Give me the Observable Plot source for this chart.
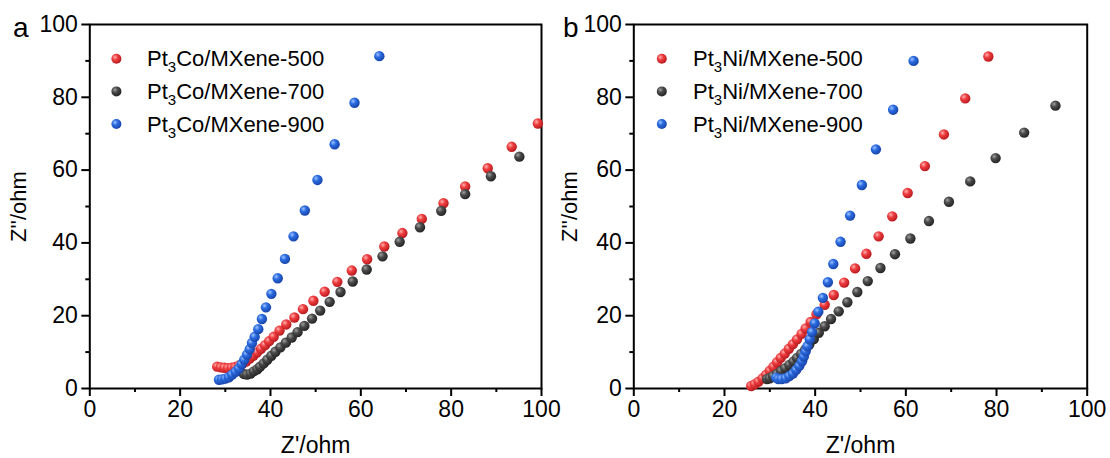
<!DOCTYPE html>
<html><head><meta charset="utf-8">
<script src="https://cdn.jsdelivr.net/npm/d3@7"></script>
<script src="https://cdn.jsdelivr.net/npm/@observablehq/plot@0.6"></script>
<style>
body{margin:0;background:#fff;}
#wrap{position:relative;width:1110px;height:458px;font-family:"Liberation Sans",Arial,sans-serif;}
#wrap svg{position:absolute;top:0;overflow:visible;background:transparent;}
</style></head><body>
<svg width="0" height="0" style="position:absolute">
<defs>
<radialGradient id="gRed" cx="0.36" cy="0.34" r="0.7">
 <stop offset="0" stop-color="#ffb0b0"/><stop offset="0.4" stop-color="#ee3d3f"/><stop offset="1" stop-color="#b5181d"/>
</radialGradient>
<radialGradient id="gGrey" cx="0.36" cy="0.34" r="0.7">
 <stop offset="0" stop-color="#a0a0a0"/><stop offset="0.4" stop-color="#4a4a4a"/><stop offset="1" stop-color="#222222"/>
</radialGradient>
<radialGradient id="gBlue" cx="0.36" cy="0.34" r="0.7">
 <stop offset="0" stop-color="#9cc2ff"/><stop offset="0.4" stop-color="#2a6be0"/><stop offset="1" stop-color="#1742a6"/>
</radialGradient>
</defs></svg>
<div id="wrap"></div>
<script>
const FONT = "Liberation Sans, Arial, sans-serif";

// ---- Panel a: Pt3Co/MXene ----
const co500x = [28.2,29.0,29.8,30.6,31.4,32.2,33.0,33.8,34.6,35.4,36.2,37.0,37.9,38.8,39.7,40.7,42.0,43.5,45.3,47.2,49.5,52.0,54.8,58.0,61.4,65.2,69.2,73.5,78.3,83.1,88.1,93.4,99.2];
const co500y = [6.0,5.8,5.7,5.6,5.7,5.9,6.3,6.8,7.4,8.2,9.0,9.9,10.9,11.9,13.0,14.2,15.9,17.6,19.5,21.8,24.1,26.6,29.3,32.4,35.5,39.0,42.7,46.6,50.9,55.5,60.5,66.4,72.8];
const co700x = [34.1,34.8,35.6,36.3,37.1,37.7,38.5,39.3,40.2,41.1,42.2,43.4,44.7,46.0,47.5,49.2,51.0,53.1,55.5,58.2,61.3,64.8,68.6,73.1,77.8,83.1,88.8,95.1];
const co700y = [4.0,3.8,4.1,4.7,5.3,6.0,6.9,7.9,9.0,10.1,11.3,12.6,14.0,15.5,17.2,19.2,21.4,23.8,26.5,29.4,32.7,36.3,40.3,44.3,48.8,53.4,58.3,63.7];
const co900x = [28.6,29.3,30.0,30.8,31.5,32.3,33.0,33.6,34.2,34.8,35.4,35.9,36.5,37.3,38.1,39.0,40.2,41.6,43.2,45.1,47.6,50.4,54.2,58.6,64.1];
const co900y = [2.4,2.5,2.7,3.1,3.8,4.6,5.5,6.7,7.9,9.3,10.8,12.5,14.2,16.3,19.1,22.3,26.0,30.3,35.6,41.8,48.9,57.3,67.1,78.5,91.3];

// ---- Panel b: Pt3Ni/MXene ----
const ni500x = [25.9,26.7,27.5,28.4,29.2,30.0,30.8,31.6,32.4,33.3,34.2,35.1,36.0,37.0,37.9,39.0,40.3,42.1,44.1,46.4,48.8,51.3,54.0,57.0,60.4,64.2,68.4,73.1,78.2];
const ni500y = [0.7,1.2,1.9,2.8,3.8,4.9,6.0,7.2,8.4,9.6,10.9,12.2,13.5,15.0,16.5,18.3,20.4,23.0,25.7,29.1,33.0,37.0,41.8,47.3,53.7,61.1,69.8,79.7,91.2];
const ni700x = [29.4,30.0,30.7,31.6,32.5,33.4,34.3,35.2,36.0,36.9,37.8,38.7,39.7,40.8,42.1,43.5,45.2,47.1,49.3,51.6,54.4,57.6,61.0,65.1,69.5,74.2,79.8,86.1,93.0];
const ni700y = [2.6,2.8,3.4,4.0,4.8,5.6,6.5,7.4,8.4,9.5,10.7,12.1,13.6,15.3,17.1,19.1,21.2,23.7,26.5,29.5,33.1,36.9,41.2,46.0,51.3,56.9,63.3,70.3,77.7];
const ni900x = [31.4,31.9,32.6,33.5,34.3,35.1,35.8,36.5,37.1,37.5,37.9,38.3,38.8,39.3,39.9,40.7,41.7,42.8,44.0,45.6,47.7,50.3,53.4,57.2,61.7];
const ni900y = [3.0,2.6,2.6,2.8,3.4,4.1,5.1,6.2,7.5,8.8,10.2,11.6,13.5,15.5,17.9,21.1,24.9,29.2,34.2,40.3,47.5,55.9,65.7,76.6,90.0];

const majorTicks = [0,20,40,60,80,100];
const minorTicks = [10,30,50,70,90];
const xTitle = "Z'/ohm";
const yTitle = "Z''/ohm";

const seriesA = [
  {pre:"Pt", sub:"3", post:"Co/MXene-500", x:co500x, y:co500y, fill:"url(#gRed)"},
  {pre:"Pt", sub:"3", post:"Co/MXene-700", x:co700x, y:co700y, fill:"url(#gGrey)"},
  {pre:"Pt", sub:"3", post:"Co/MXene-900", x:co900x, y:co900y, fill:"url(#gBlue)"}
];
const seriesB = [
  {pre:"Pt", sub:"3", post:"Ni/MXene-500", x:ni500x, y:ni500y, fill:"url(#gRed)"},
  {pre:"Pt", sub:"3", post:"Ni/MXene-700", x:ni700x, y:ni700y, fill:"url(#gGrey)"},
  {pre:"Pt", sub:"3", post:"Ni/MXene-900", x:ni900x, y:ni900y, fill:"url(#gBlue)"}
];

function panel(series, letter, marginLeft, marginRight, lay) {
  const marks = [
    Plot.axisX({ticks: majorTicks, tickSize: 8, tickPadding: 4, strokeWidth: 2, label: null, tickFormat: d => String(d)}),
    Plot.axisX({ticks: minorTicks, tickSize: 4, strokeWidth: 2, label: null, tickFormat: () => ""}),
    Plot.axisY({ticks: majorTicks, tickSize: 8, tickPadding: 4, strokeWidth: 2, label: null, tickFormat: d => String(d)}),
    Plot.axisY({ticks: minorTicks, tickSize: 4, strokeWidth: 2, label: null, tickFormat: () => ""}),
    Plot.frame({stroke: "#000", strokeWidth: 2}),
    Plot.text([xTitle], {frameAnchor: "bottom", textAnchor: "middle", lineAnchor: "middle", dy: 57, fontSize: 23, fill: "#000"}),
    Plot.text([yTitle], {frameAnchor: "left", textAnchor: "middle", lineAnchor: "middle", rotate: -90, dx: lay.ytitle, fontSize: 22, fill: "#000"}),
    Plot.text([letter], {frameAnchor: "top-left", textAnchor: "middle", lineAnchor: "middle", dx: lay.letter, dy: 4, fontSize: 28, fill: "#000"})
  ];
  series.forEach((s) => {
    const rows = s.x.map((x, j) => ({x, y: s.y[j]}));
    marks.push(Plot.dot(rows, {x: "x", y: "y", r: 5.2, fill: s.fill, stroke: "none"}));
  });
  series.forEach((s, i) => {
    marks.push(Plot.dot([s], {frameAnchor: "top-left", dx: lay.dot, dy: 34.3 + 32.6 * i, r: 5, fill: s.fill, stroke: "none"}));
  });
  const svg = Plot.plot({
    width: 555, height: 458,
    marginTop: 24, marginBottom: 70, marginLeft, marginRight,
    x: {domain: [0, 100]},
    y: {domain: [0, 100]},
    style: {fontFamily: FONT, fontSize: "23px", color: "#000", background: "transparent", overflow: "visible"},
    marks
  });
  const root = d3.select(svg);
  // enlarge the numeric tick labels
  root.selectAll("text").filter(function() { return /^\d+$/.test(this.textContent.trim()); })
      .attr("font-size", 23).style("font-size", "23px").style("font-family", FONT);
  const g = root.append("g").attr("font-family", FONT).attr("font-size", 22).attr("fill", "#000").attr("text-anchor", "start");
  series.forEach((s, i) => {
    const t = g.append("text").attr("text-anchor", "start").attr("x", lay.text).attr("y", 24 + 34.3 + 32.6 * i + 8);
    t.append("tspan").text(s.pre);
    t.append("tspan").attr("font-size", 15).attr("dy", 6).text(s.sub);
    t.append("tspan").attr("dy", -6).text(s.post);
  });
  return svg;
}

const wrap = document.getElementById("wrap");
const a = panel(seriesA, "a", 89.3, 14, {letter: -69, ytitle: -71, dot: 26.6, text: 147});
a.style.left = "0px";
wrap.appendChild(a);
const b = panel(seriesB, "b", 78.3, 23.3, {letter: -63, ytitle: -64, dot: 28, text: 693 - 555});
b.style.left = "555px";
wrap.appendChild(b);
</script>
</body></html>
